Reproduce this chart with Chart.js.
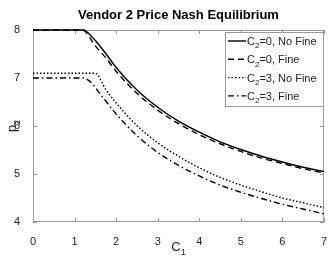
<!DOCTYPE html>
<html>
<head>
<meta charset="utf-8">
<script src="https://cdn.jsdelivr.net/npm/chart.js@4.4.1/dist/chart.umd.min.js"></script>
<style>
  html, body { margin: 0; padding: 0; background: #fff; }
  #wrap { width: 332px; height: 265px; }
</style>
</head>
<body>
<div id="wrap"><canvas id="nashChart" width="332" height="265"></canvas></div>
<script>
// values
const c1Values = [0, 1.2, 1.45, 1.5, 1.75, 2, 2.5, 3, 3.5, 4, 4.5, 5, 5.5, 6, 6.5, 7];
const p2NoFineC0 = [8, 8, 7.83, 7.78, 7.51, 7.22, 6.75, 6.39, 6.10, 5.87, 5.67, 5.51, 5.37, 5.25, 5.14, 5.05];
const p2FineC0 = [8, 8, 7.73, 7.67, 7.42, 7.14, 6.68, 6.33, 6.05, 5.82, 5.63, 5.47, 5.33, 5.22, 5.11, 5.02];
const p2NoFineC3 = [7.1, 7.1, 7.1, 7.1, 6.76, 6.48, 6.01, 5.65, 5.37, 5.13, 4.93, 4.77, 4.63, 4.50, 4.40, 4.30];
const p2FineC3 = [7.0, 7.0, 6.86, 6.80, 6.52, 6.25, 5.80, 5.45, 5.18, 4.96, 4.77, 4.62, 4.49, 4.37, 4.27, 4.17];
const seriesLabels = ['C_2=0, No Fine', 'C_2=0, Fine', 'C_2=3, No Fine', 'C_2=3, Fine'];
const xTicks = [0, 1, 2, 3, 4, 5, 6, 7];
const yTicks = [4, 5, 6, 7, 8];
const chartTitle = 'Vendor 2 Price Nash Equilibrium';
const xLabel = 'C_1';
const yLabel = 'p_2';

const dashes = [[], [6, 4], [1.5, 2], [6, 3, 1.5, 3]];
const FONT = '"Liberation Sans", Arial, Helvetica, sans-serif';
const AXIS = '#9a9a9a';
const TEXT = '#262626';

const toPoints = ys => c1Values.map((x, i) => ({ x: x, y: ys[i] }));

// draws "C_2=0" style text with one-char subscripts
function drawSubText(ctx, str, x, y, size) {
    const parts = str.split(/(_.)/).filter(s => s.length);
    ctx.textBaseline = 'alphabetic';
    ctx.textAlign = 'left';
    let cx = x;
    parts.forEach(p => {
        if (p[0] === '_') {
            ctx.font = Math.round(size * 0.72) + 'px ' + FONT;
            ctx.fillText(p[1], cx, y + size * 0.3);
            cx += ctx.measureText(p[1]).width;
        } else {
            ctx.font = size + 'px ' + FONT;
            ctx.fillText(p, cx, y);
            cx += ctx.measureText(p).width;
        }
    });
    return cx;
}
function measureSubText(ctx, str, size) {
    const parts = str.split(/(_.)/).filter(s => s.length);
    let w = 0;
    parts.forEach(p => {
        if (p[0] === '_') {
            ctx.font = Math.round(size * 0.72) + 'px ' + FONT;
            w += ctx.measureText(p[1]).width;
        } else {
            ctx.font = size + 'px ' + FONT;
            w += ctx.measureText(p).width;
        }
    });
    return w;
}

const framePlugin = {
    id: 'matlabFrame',
    beforeDatasetsDraw(chart) {
        const { ctx, chartArea: a, scales: { x, y } } = chart;
        ctx.save();
        // box + inward ticks
        ctx.strokeStyle = AXIS;
        ctx.lineWidth = 1;
        ctx.setLineDash([]);
        ctx.strokeRect(a.left + 0.5, a.top + 0.5, a.right - a.left - 1, a.bottom - a.top - 1);
        ctx.beginPath();
        xTicks.forEach(v => {
            const px = Math.round(x.getPixelForValue(v)) + 0.5;
            ctx.moveTo(px, a.bottom); ctx.lineTo(px, a.bottom - 4);
            ctx.moveTo(px, a.top); ctx.lineTo(px, a.top + 4);
        });
        yTicks.forEach(v => {
            const py = Math.round(y.getPixelForValue(v)) + 0.5;
            ctx.moveTo(a.left, py); ctx.lineTo(a.left + 4, py);
            ctx.moveTo(a.right, py); ctx.lineTo(a.right - 4, py);
        });
        ctx.stroke();
        ctx.restore();
    },
    afterDraw(chart) {
        const { ctx, chartArea: a } = chart;
        ctx.save();

        // title
        ctx.fillStyle = '#000';
        ctx.font = 'bold 13px ' + FONT;
        ctx.textAlign = 'center';
        ctx.textBaseline = 'alphabetic';
        ctx.fillText(chartTitle, (a.left + a.right) / 2, 19);

        // axis labels
        ctx.fillStyle = TEXT;
        const xw = measureSubText(ctx, xLabel, 13);
        drawSubText(ctx, xLabel, (a.left + a.right) / 2 - xw / 2, 251, 13);
        ctx.save();
        ctx.translate(16, (a.top + a.bottom) / 2);
        ctx.rotate(-Math.PI / 2);
        const yw = measureSubText(ctx, yLabel, 13);
        drawSubText(ctx, yLabel, -yw / 2, 0, 13);
        ctx.restore();

        // legend
        const lx = 225, ly = 32, lw = 98, lh = 74;
        ctx.fillStyle = '#fff';
        ctx.fillRect(lx, ly, lw, lh);
        ctx.strokeStyle = AXIS;
        ctx.lineWidth = 1;
        ctx.strokeRect(lx + 0.5, ly + 0.5, lw, lh);
        chart.data.datasets.forEach((ds, i) => {
            const rowY = 41 + i * 18.3;
            ctx.strokeStyle = '#000';
            ctx.lineWidth = 1.4;
            ctx.setLineDash(ds.borderDash || []);
            ctx.beginPath();
            ctx.moveTo(lx + 3, rowY);
            ctx.lineTo(lx + 21, rowY);
            ctx.stroke();
            ctx.setLineDash([]);
            ctx.fillStyle = TEXT;
            drawSubText(ctx, seriesLabels[i], lx + 22, rowY + 4, 11);
        });
        ctx.restore();
    }
};

new Chart(document.getElementById('nashChart').getContext('2d'), {
    type: 'line',
    data: {
        datasets: [p2NoFineC0, p2FineC0, p2NoFineC3, p2FineC3].map((ys, i) => ({
            label: seriesLabels[i],
            data: toPoints(ys),
            borderColor: '#000',
            borderWidth: 1.4,
            borderDash: dashes[i],
            pointRadius: 0,
            fill: false,
            clip: 4,
            cubicInterpolationMode: 'monotone'
        }))
    },
    options: {
        responsive: false,
        animation: false,
        layout: { padding: { top: 30, right: 7, left: 0, bottom: 0 } },
        plugins: { legend: { display: false }, tooltip: { enabled: false }, title: { display: false } },
        scales: {
            x: {
                type: 'linear', min: 0, max: 7,
                afterFit: s => { s.height = 43; },
                afterBuildTicks: s => { s.ticks = xTicks.map(v => ({ value: v })); },
                grid: { display: false },
                border: { display: false },
                ticks: { color: TEXT, padding: 5, font: { size: 11, family: FONT } }
            },
            y: {
                type: 'linear', min: 4, max: 8,
                afterFit: s => { s.width = 33; },
                afterBuildTicks: s => { s.ticks = yTicks.map(v => ({ value: v })); },
                grid: { display: false },
                border: { display: false },
                ticks: { color: TEXT, padding: 5, font: { size: 11, family: FONT } }
            }
        }
    },
    plugins: [framePlugin]
});
</script>
</body>
</html>
